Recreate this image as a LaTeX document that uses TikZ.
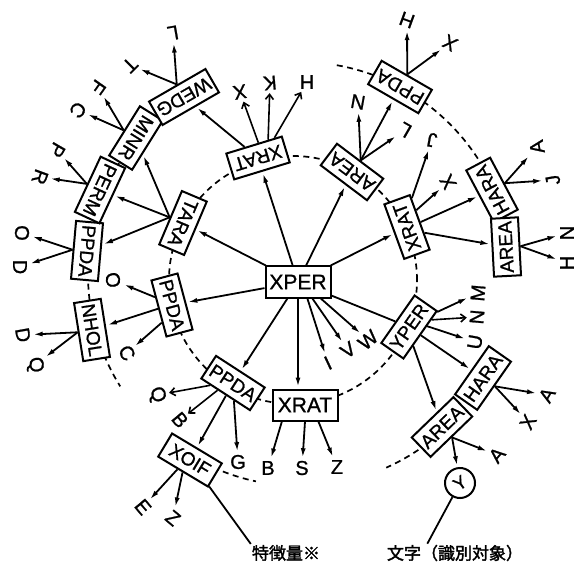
\documentclass[tikz,border=0pt]{standalone}
\usepackage{fontspec}
\setmainfont{Liberation Sans}
\newfontfamily\lett{Liberation Sans}[FakeBold=1]
\newfontfamily\cjk{Noto Sans CJK JP}[FakeBold=2]
\usetikzlibrary{arrows.meta,calc}
\begin{document}
\begin{tikzpicture}[x=1pt,y=-1pt,
  ar/.style={-{Latex[length=9.5pt,width=5pt]}, line width=1.8pt, shorten >=1.5pt},
  oar/.style={-{Straight Barb[length=5pt,width=8pt]}, line width=1.6pt, shorten >=1.5pt},
  ln/.style={line width=1.8pt},
  bx/.style={draw, line width=2pt, fill=white, font=\lett\fontsize{19}{19}\selectfont,
    inner xsep=3pt, inner ysep=0pt, minimum height=27pt, minimum width=58pt},
  bigbx/.style={bx, font=\lett\fontsize{21}{21}\selectfont, minimum height=31pt, minimum width=65pt},
  lb/.style={font=\lett\fontsize{20}{20}\selectfont, inner sep=1.5pt},
  dsh/.style={dash pattern=on 6pt off 4.5pt, line width=1.7pt},
  jp/.style={font=\cjk\fontsize{17}{17}\selectfont, inner sep=1pt}]
\useasboundingbox (0,0) rectangle (578,569);

% dashed circles
\draw[dsh] (293,280) circle[radius=124pt];
\draw[dsh] ($(300,274)+(123:212pt)$) arc[start angle=123, end angle=212, radius=212pt];
\draw[dsh] ($(300,274)+(243:212pt)$) arc[start angle=243, end angle=258, radius=212pt];
\draw[dsh] ($(300,274)+(80:212pt)$) arc[start angle=80, end angle=0, radius=212pt];
\draw[dsh] ($(300,274)+(-22:212pt)$) arc[start angle=-22, end angle=-66, radius=212pt];

% boxes
\node[bigbx] (xper) at (298,282) {XPER};
\node[bigbx] (xratB) at (305,405) {XRAT};
\node[bx, rotate=-33] (ppdaL) at (233,383) {PPDA};
\node[bx, rotate=-31] (xoif) at (190,460) {XOIF};
\node[bx, rotate=-75] (ppdaM) at (172,305) {PPDA};
\node[bx, rotate=-81] (nhol) at (92,330) {NHOL};
\node[bx, rotate=-95] (ppdaF) at (87,251) {PPDA};
\node[bx, rotate=-115] (perm) at (100,190) {PERM};
\node[bx, rotate=-122] (minr) at (136,138) {MINR};
\node[bx, rotate=210] (wedg) at (184,97) {WEDG};
\node[bx, rotate=-113] (tara) at (183,223) {TARA};
\node[bx, rotate=197] (xratT) at (258,158) {XRAT};
\node[bx, rotate=143] (areaT) at (352,172) {AREA};
\node[bx, rotate=150] (ppdaT) at (400,87) {PPDA};
\node[bx, rotate=110] (xratR) at (407,227) {XRAT};
\node[bx, rotate=118] (haraU) at (492,190) {HARA};
\node[bx, rotate=93] (areaR) at (506,247) {AREA};
\node[bx, rotate=55] (yper) at (409,327) {YPER};
\node[bx, rotate=55] (haraL) at (483,378) {HARA};
\node[bx, rotate=44] (areaL) at (442,427) {AREA};
\node[circle, draw, line width=2pt, fill=white, minimum size=30pt, inner sep=0pt,
  font=\lett\fontsize{18}{18}\selectfont, rotate=35] (ycirc) at (460,483) {Y};

% labels
\node[lb] (bB) at (268,468) {B};
\node[lb] (bS) at (302,468) {S};
\node[lb] (bZ) at (337,467) {Z};
\node[lb, rotate=25] (lI) at (328,363) {I};
\node[lb, rotate=35] (lV) at (348,350) {V};
\node[lb, rotate=40] (lW) at (368,340) {W};
\node[lb, rotate=190] (tX) at (240,92) {X};
\node[lb, rotate=185] (tK) at (270,83) {K};
\node[lb, rotate=180] (tH) at (307,82) {H};
\node[lb, rotate=170] (aN) at (358,102) {N};
\node[lb, rotate=150] (aL) at (405,130) {L};
\node[lb, rotate=160] (pH) at (407,20) {H};
\node[lb, rotate=150] (pX) at (450,43) {X};
\node[lb, rotate=170] (rJ) at (432,140) {J};
\node[lb, rotate=120] (rX) at (448,182) {X};
\node[lb, rotate=100] (hA) at (537,147) {A};
\node[lb, rotate=100] (hJ) at (553,180) {J};
\node[lb, rotate=90] (arN) at (567,233) {N};
\node[lb, rotate=90] (arH) at (567,263) {H};
\node[lb, rotate=85] (yM) at (478,293) {M};
\node[lb, rotate=85] (yN) at (477,317) {N};
\node[lb, rotate=80] (yU) at (475,342) {U};
\node[lb, rotate=60] (hlA) at (547,395) {A};
\node[lb, rotate=60] (hlX) at (528,422) {X};
\node[lb, rotate=50] (alA) at (497,455) {A};
\node[lb, rotate=-50] (xE) at (143,507) {E};
\node[lb, rotate=-40] (xZ) at (173,518) {Z};
\node[lb, rotate=-70] (lQ) at (157,395) {Q};
\node[lb, rotate=-50] (lB) at (180,420) {B};
\node[lb] (lG) at (238,462) {G};
\node[lb, rotate=-80] (mO) at (113,280) {O};
\node[lb, rotate=-60] (mC) at (127,353) {C};
\node[lb, rotate=-80] (nD) at (23,335) {D};
\node[lb, rotate=-80] (nQ) at (35,365) {Q};
\node[lb, rotate=-90] (fO) at (22,233) {O};
\node[lb, rotate=-90] (fD) at (20,267) {D};
\node[lb, rotate=-120] (pP) at (57,150) {P};
\node[lb, rotate=-110] (pR) at (40,177) {R};
\node[lb, rotate=-125] (mF) at (98,87) {F};
\node[lb, rotate=-130] (mC2) at (78,110) {C};
\node[lb, rotate=-135] (wT) at (130,65) {T};
\node[lb, rotate=190] (wL) at (173,33) {L};
\node[jp] (feat) at (286,553) {特徴量※};
\node[jp] (obj) at (455,553) {文字（識別対象）};

% connectors from XPER
\draw[ar] (xper) -- (xratT);
\draw[ar] (xper) -- (areaT);
\draw[ar] (xper) -- (xratR);
\draw[ar] (xper) -- (tara);
\draw[ar] (xper) -- (ppdaM);
\draw[ar] (xper) -- (ppdaL);
\draw[ar] (xper.south) -- (xper.south |- xratB.north);
\draw[ar] ($(xper.south)!0.28!(xper.south east)$) -- (lI);
\draw[ar] ($(xper.south)!0.43!(xper.south east)$) -- (lV);
\draw[ar] ($(xper.south)!0.68!(xper.south east)$) -- (lW);
\draw[ln] (xper) -- (yper);

% XRAT bottom
\draw[ar] ($(xratB.south)!0.69!(xratB.south west)$) -- (bB);
\draw[ar] (xratB.south) -- (bS);
\draw[ar] ($(xratB.south)!0.4!(xratB.south east)$) -- (bZ);

% XRAT top
\draw[ar] (xratT) -- (wedg);
\draw[oar] ($(xratT.south)!0.16!(xratT.south west)$) -- (tX);
\draw[oar] ($(xratT.south)!0.5!(xratT.south west)$) -- (tK);
\draw[oar] ($(xratT.south)!0.72!(xratT.south west)$) -- (tH);

% WEDG
\draw[ar] (wedg.south) -- (wL);
\draw[ar] (wedg.south) -- (wT);

% TARA
\draw[ar] (tara.south) -- (perm);
\draw[ar] (tara.south) -- (minr);
\draw[ar] (tara.south) -- (ppdaF);

% MINR, PERM, PPDA far
\draw[ar] (minr.south) -- (mF);
\draw[ar] (minr.south) -- (mC2);
\draw[ar] (perm.south) -- (pP);
\draw[ar] (perm.south) -- (pR);
\draw[ar] (ppdaF.south) -- (fO);
\draw[ar] (ppdaF.south) -- (fD);

% PPDA mid
\draw[ar] ($(ppdaM.south)!0.4!(ppdaM.south west)$) -- (mO);
\draw[ar] (ppdaM.south) -- (nhol);
\draw[ar] ($(ppdaM.south)!0.48!(ppdaM.south east)$) -- (mC);
\draw[ar] (nhol.south) -- (nD);
\draw[ar] (nhol.south) -- (nQ);

% PPDA low
\draw[oar] ($(ppdaL.south)!0.6!(ppdaL.south west)$) -- (lQ);
\draw[oar] ($(ppdaL.south)!0.3!(ppdaL.south west)$) -- (lB);
\draw[ar] (ppdaL) -- (xoif);
\draw[ar] ($(ppdaL.south)!0.35!(ppdaL.south east)$) -- (lG);

% XOIF
\draw[ar] ($(xoif.south)!0.2!(xoif.south west)$) -- (xE);
\draw[ar] (xoif.south) -- (xZ);
\draw[ln] (xoif) -- (feat.north west);

% AREA top, PPDA top
\draw[ar] (areaT.south) -- (aN);
\draw[ar] (areaT.south) -- (ppdaT);
\draw[ar] (areaT.south) -- (aL);
\draw[ar] (ppdaT.south) -- (pH);
\draw[ar] (ppdaT.south) -- (pX);

% XRAT right
\draw[ar] ($(xratR.south)!0.85!(xratR.south east)$) -- (rJ);
\draw[ar] ($(xratR.south)!0.42!(xratR.south east)$) -- (rX);
\draw[ar] (xratR.south) -- (haraU);
\draw[ar] ($(xratR.south)!0.38!(xratR.south west)$) -- (areaR);
\draw[ar] (haraU.south) -- (hA);
\draw[ar] (haraU.south) -- (hJ);
\draw[ar] (areaR.south) -- (arN);
\draw[ar] (areaR.south) -- (arH);

% YPER
\draw[ar] ($(yper.south)!0.95!(yper.south east)$) -- (yM);
\draw[oar] ($(yper.south)!0.63!(yper.south east)$) -- (yN);
\draw[ar] ($(yper.south)!0.37!(yper.south east)$) -- (yU);
\draw[ar] (yper.south) -- (haraL);
\draw[ar] ($(yper.south)!0.44!(yper.south west)$) -- (areaL);
\draw[ar] (haraL.south) -- (hlA);
\draw[ar] (haraL.south) -- (hlX);
\draw[ar] (areaL.south) -- (alA);
\draw[ar] (areaL.south) -- (ycirc);
\draw[ln] (ycirc) -- ($(obj.north west)!0.3!(obj.north east)$);
\end{tikzpicture}
\end{document}
